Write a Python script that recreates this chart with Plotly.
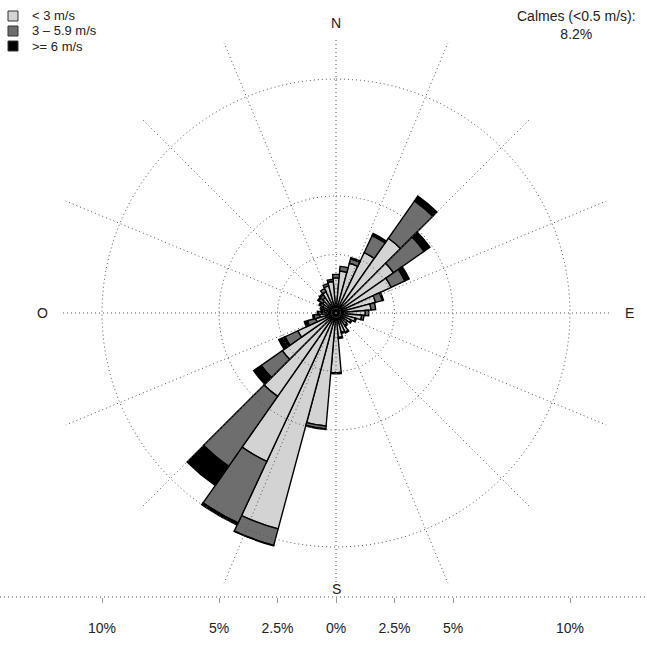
import plotly.graph_objects as go

# ---------------- data ----------------
directions = list(range(0, 360, 10))
speed_classes = ["< 3 m/s", "3 – 5.9 m/s", ">= 6 m/s"]
low_speed = [1.5, 1.8, 2.2, 2.85, 3.9, 3.0, 2.6, 1.75, 1.5, 1.25, 1.1, 0.85,
             0.7, 0.6, 0.65, 0.9, 0.85, 1.05, 2.55, 4.85, 9.55, 7.0, 4.35, 2.8,
             1.8, 0.9, 0.7, 0.6, 0.5, 0.55, 0.6, 0.7, 0.8, 1.0, 1.2, 1.35]
mid_speed = [0.15, 0.2, 0.2, 0.8, 1.95, 1.6, 0.65, 0.3, 0.2, 0.15, 0.1, 0.05,
             0.05, 0.0, 0.05, 0.05, 0.05, 0.05, 0.05, 0.12, 0.73, 2.9, 3.65, 1.1,
             0.6, 0.35, 0.25, 0.15, 0.1, 0.1, 0.15, 0.2, 0.15, 0.15, 0.1, 0.1]
high_speed = [0.0, 0.0, 0.05, 0.1, 0.25, 0.3, 0.2, 0.05, 0.0, 0.0, 0.0, 0.0,
              0.0, 0.0, 0.0, 0.0, 0.0, 0.0, 0.0, 0.03, 0.02, 0.1, 1.0, 0.4,
              0.3, 0.15, 0.05, 0.05, 0.05, 0.05, 0.05, 0.05, 0.05, 0.0, 0.0, 0.0]
calm_text = "Calmes (&lt;0.5 m/s):<br>8.2%"
compass_labels = ["N", "E", "S", "O"]
ring_values = [2.5, 5, 10]
spoke_angles = [i * 22.5 for i in range(16)]
scale_ticks = [-10, -5, -2.5, 0, 2.5, 5, 10]
scale_labels = ["10%", "5%", "2.5%", "0%", "2.5%", "5%", "10%"]

colors = ["#d3d3d3", "#6e6e6e", "#000000"]
series = [low_speed, mid_speed, high_speed]

# ---------------- layout geometry ----------------
W, H = 647, 659
CX, CY = 336, 313          # centre of rose (pixels)
PPP = 23.4                 # pixels per percent
R_PIX = 300                # radius of polar domain
RMAX = R_PIX / PPP
SPOKE_MAIN = 11.8          # spoke length (percent units) on 45° directions
SPOKE_MINOR = 12.5         # spoke length on intermediate directions


def fx(x):
    return x / W


def fy(y):
    return (H - y) / H


fig = go.Figure()
for name, vals, col in zip(speed_classes, series, colors):
    fig.add_trace(go.Barpolar(
        r=vals, theta=directions, width=[10] * len(directions), name=name,
        marker=dict(color=col, line=dict(color="black", width=1.4)),
        showlegend=False, subplot="polar"))

grid_col = "#555555"
grid_dash = "1px,3px"

# dotted grid drawn above the bars
ring_theta = list(range(0, 361, 2))
for rv in ring_values:
    fig.add_trace(go.Scatterpolar(
        r=[rv] * len(ring_theta), theta=ring_theta, mode="lines",
        line=dict(color=grid_col, width=1, dash=grid_dash),
        hoverinfo="skip", showlegend=False))
for i, a in enumerate(spoke_angles):
    length = SPOKE_MAIN if i % 2 == 0 else SPOKE_MINOR
    fig.add_trace(go.Scatterpolar(
        r=[0, length], theta=[a, a], mode="lines",
        line=dict(color=grid_col, width=1, dash=grid_dash),
        hoverinfo="skip", showlegend=False))

# invisible trace carrying the percentage scale axis
fig.add_trace(go.Scatter(x=scale_ticks, y=[0.5] * len(scale_ticks), mode="markers",
                         marker=dict(opacity=0, size=1), hoverinfo="skip",
                         showlegend=False, xaxis="x", yaxis="y"))

fig.update_layout(
    width=W, height=H,
    margin=dict(l=0, r=0, t=0, b=0),
    paper_bgcolor="white", plot_bgcolor="rgba(0,0,0,0)",
    font=dict(family="Liberation Sans, Arial, sans-serif", size=14, color="#222"),
    polar=dict(
        domain=dict(x=[fx(CX - R_PIX), fx(CX + R_PIX)],
                    y=[fy(CY + R_PIX), fy(CY - R_PIX)]),
        bgcolor="rgba(0,0,0,0)",
        barmode="stack",
        radialaxis=dict(range=[0, RMAX], showticklabels=False, ticks="",
                        showline=False, showgrid=False),
        angularaxis=dict(rotation=90, direction="clockwise", showticklabels=False,
                         ticks="", showline=False, showgrid=False),
    ),
    xaxis=dict(domain=[0, 1], range=[-CX / PPP, (W - CX) / PPP], anchor="y",
               tickvals=scale_ticks, ticktext=scale_labels, ticks="outside",
               ticklen=5, tickcolor="#999", tickwidth=1, showgrid=False,
               zeroline=False, showline=False, ticklabelstandoff=13,
               tickfont=dict(size=14, color="#222"), fixedrange=True),
    yaxis=dict(domain=[fy(597), fy(597) + 0.002], visible=False, range=[0, 1],
               fixedrange=True),
)

# dotted scale line
fig.add_shape(type="line", xref="paper", yref="paper", x0=0, x1=1,
              y0=fy(597), y1=fy(597), line=dict(color=grid_col, width=1, dash=grid_dash))

# compass labels
label_pos = {"N": (336, 23), "E": (629, 313), "S": (336, 589), "O": (42, 313)}
for lab in compass_labels:
    x, y = label_pos[lab]
    fig.add_annotation(text=lab, x=fx(x), y=fy(y), xref="paper", yref="paper",
                       showarrow=False, xanchor="center", yanchor="middle",
                       font=dict(size=14, color="#222"))

# calm annotation
fig.add_annotation(text=calm_text, x=fx(576), y=fy(25), xref="paper", yref="paper",
                   showarrow=False, xanchor="center", yanchor="middle", align="center",
                   font=dict(size=14, color="#222"))

# manual legend
leg_y = [16, 31, 46]
for name, col, y in zip(speed_classes, colors, leg_y):
    fig.add_shape(type="rect", xref="paper", yref="paper",
                  x0=fx(8), x1=fx(18), y0=fy(y + 5), y1=fy(y - 5),
                  fillcolor=col, line=dict(color="#333", width=1))
    fig.add_annotation(text=name.replace("<", "&lt;").replace(">", "&gt;"),
                       x=fx(30), y=fy(y), xref="paper", yref="paper",
                       showarrow=False, xanchor="left", yanchor="middle",
                       font=dict(size=13, color="#222"))

fig.write_html("out.html", config={"displayModeBar": False},
               post_script="document.body.style.margin='0';")
